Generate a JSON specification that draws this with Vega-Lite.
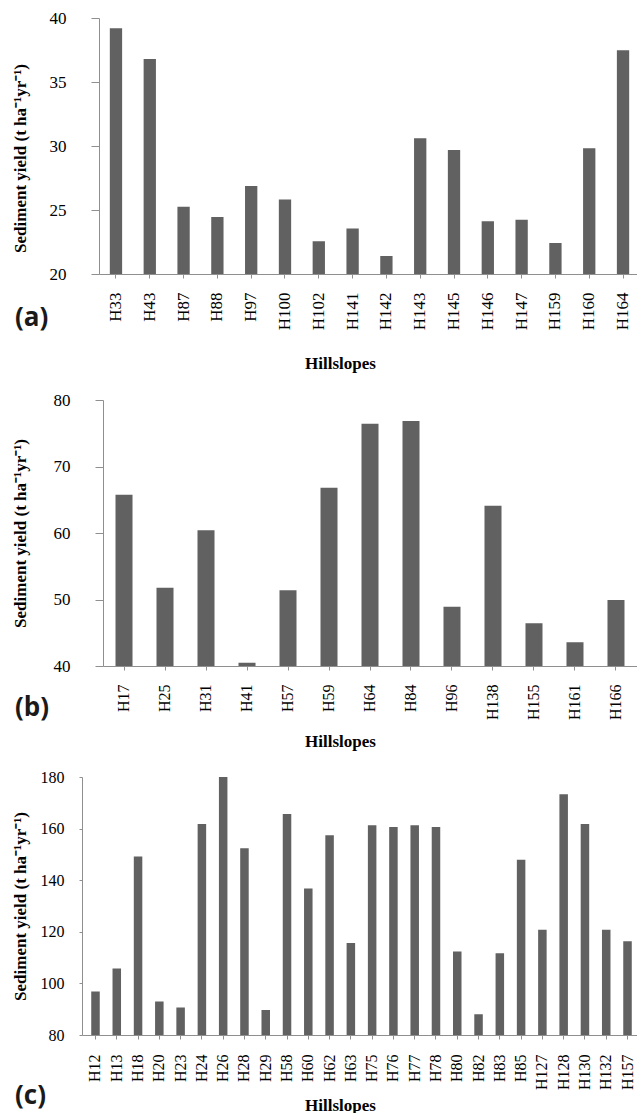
{
  "$schema": "https://vega.github.io/schema/vega-lite/v6.json",
  "background": "white",
  "padding": {"top": 9, "left": 10, "right": 0, "bottom": 0},
  "config": {
    "view": {"stroke": null},
    "font": "Liberation Serif",
    "axis": {
      "grid": false,
      "domainColor": "#8f8f8f",
      "tickColor": "#8f8f8f",
      "labelColor": "#000000",
      "labelFont": "Liberation Serif",
      "titleFont": "Liberation Serif",
      "titleFontWeight": "bold",
      "titleColor": "#000000"
    },
    "title": {"font": "Open Sans", "fontWeight": "bold", "fontSize": 26, "color": "#1a1a1a"}
  },
  "datasets": {
    "a": [
      {"hillslope": "H33", "yield": 39.2},
      {"hillslope": "H43", "yield": 36.8},
      {"hillslope": "H87", "yield": 25.25},
      {"hillslope": "H88", "yield": 24.46},
      {"hillslope": "H97", "yield": 26.87},
      {"hillslope": "H100", "yield": 25.82},
      {"hillslope": "H102", "yield": 22.56},
      {"hillslope": "H141", "yield": 23.55},
      {"hillslope": "H142", "yield": 21.41},
      {"hillslope": "H143", "yield": 30.6},
      {"hillslope": "H145", "yield": 29.69},
      {"hillslope": "H146", "yield": 24.13},
      {"hillslope": "H147", "yield": 24.23},
      {"hillslope": "H159", "yield": 22.43},
      {"hillslope": "H160", "yield": 29.82},
      {"hillslope": "H164", "yield": 37.49}
    ],
    "b": [
      {"hillslope": "H17", "yield": 65.76},
      {"hillslope": "H25", "yield": 51.78},
      {"hillslope": "H31", "yield": 60.4},
      {"hillslope": "H41", "yield": 40.5},
      {"hillslope": "H57", "yield": 51.38},
      {"hillslope": "H59", "yield": 66.8},
      {"hillslope": "H64", "yield": 76.44},
      {"hillslope": "H84", "yield": 76.84},
      {"hillslope": "H96", "yield": 48.92},
      {"hillslope": "H138", "yield": 64.1},
      {"hillslope": "H155", "yield": 46.42},
      {"hillslope": "H161", "yield": 43.56},
      {"hillslope": "H166", "yield": 49.92}
    ],
    "c": [
      {"hillslope": "H12", "yield": 96.9},
      {"hillslope": "H13", "yield": 105.8},
      {"hillslope": "H18", "yield": 149.2},
      {"hillslope": "H20", "yield": 93.0},
      {"hillslope": "H23", "yield": 90.7},
      {"hillslope": "H24", "yield": 161.8},
      {"hillslope": "H26", "yield": 180.1},
      {"hillslope": "H28", "yield": 152.4},
      {"hillslope": "H29", "yield": 89.7},
      {"hillslope": "H58", "yield": 165.7},
      {"hillslope": "H60", "yield": 136.8},
      {"hillslope": "H62", "yield": 157.4},
      {"hillslope": "H63", "yield": 115.7},
      {"hillslope": "H75", "yield": 161.3},
      {"hillslope": "H76", "yield": 160.6},
      {"hillslope": "H77", "yield": 161.3},
      {"hillslope": "H78", "yield": 160.6},
      {"hillslope": "H80", "yield": 112.4},
      {"hillslope": "H82", "yield": 88.0},
      {"hillslope": "H83", "yield": 111.7},
      {"hillslope": "H85", "yield": 147.9},
      {"hillslope": "H127", "yield": 120.8},
      {"hillslope": "H128", "yield": 173.3},
      {"hillslope": "H130", "yield": 161.8},
      {"hillslope": "H132", "yield": 120.8},
      {"hillslope": "H157", "yield": 116.3}
    ]
  },
  "spacing": 20,
  "vconcat": [
    {
      "width": 558,
      "height": 256,
      "data": {"name": "a"},
      "title": {"text": "(a)", "orient": "bottom", "anchor": "start", "frame": "bounds", "dx": 4, "dy": -70},
      "mark": {"type": "bar", "color": "#616161", "clip": true},
      "encoding": {
        "x": {
          "field": "hillslope", "type": "nominal", "sort": null,
          "scale": {"range": [17, 558], "paddingInner": 0.636, "paddingOuter": 0.32},
          "axis": {"labelAngle": -90, "labelFontSize": 17, "tickSize": 4, "labelPadding": 14,
                   "title": "Hillslopes", "titleFontSize": 17, "titleX": 258, "titleY": 89, "titleBaseline": "middle"}
        },
        "y": {
          "field": "yield", "type": "quantitative",
          "scale": {"domain": [20, 40], "nice": false, "zero": false},
          "axis": {"offset": -17, "values": [20, 25, 30, 35, 40], "labelFontSize": 17, "tickSize": 8, "labelPadding": 25,
                   "title": "Sediment yield (t ha⁻¹yr⁻¹)", "titleFontSize": 17, "titleX": -79, "titleY": 140, "titleBaseline": "middle"}
        }
      }
    },
    {
      "width": 555,
      "height": 266,
      "data": {"name": "b"},
      "title": {"text": "(b)", "orient": "bottom", "anchor": "start", "frame": "bounds", "dx": 4, "dy": -58},
      "mark": {"type": "bar", "color": "#616161", "clip": true},
      "encoding": {
        "x": {
          "field": "hillslope", "type": "nominal", "sort": null,
          "scale": {"range": [21, 555], "paddingInner": 0.585, "paddingOuter": 0.305},
          "axis": {"labelAngle": -90, "labelFontSize": 16, "tickSize": 4, "labelPadding": 14,
                   "title": "Hillslopes", "titleFontSize": 17, "titleX": 258, "titleY": 75, "titleBaseline": "middle"}
        },
        "y": {
          "field": "yield", "type": "quantitative",
          "scale": {"domain": [40, 80], "nice": false, "zero": false},
          "axis": {"offset": -21, "values": [40, 50, 60, 70, 80], "labelFontSize": 17, "tickSize": 8, "labelPadding": 25,
                   "title": "Sediment yield (t ha⁻¹yr⁻¹)", "titleFontSize": 17, "titleX": -83, "titleBaseline": "middle"}
        }
      }
    },
    {
      "width": 559,
      "height": 258,
      "data": {"name": "c"},
      "title": {"text": "(c)", "orient": "bottom", "anchor": "start", "frame": "bounds", "dx": 4, "dy": -34},
      "mark": {"type": "bar", "color": "#616161", "clip": true},
      "encoding": {
        "x": {
          "field": "hillslope", "type": "nominal", "sort": null,
          "scale": {"paddingInner": 0.6, "paddingOuter": 0.434},
          "axis": {"labelAngle": -90, "labelFontSize": 16, "tickSize": 4, "labelPadding": 15,
                   "title": "Hillslopes", "titleFontSize": 17, "titleX": 258, "titleY": 70, "titleBaseline": "middle"}
        },
        "y": {
          "field": "yield", "type": "quantitative",
          "scale": {"domain": [80, 180], "nice": false, "zero": false},
          "axis": {"values": [80, 100, 120, 140, 160, 180], "labelFontSize": 16, "tickSize": 3, "labelPadding": 15,
                   "title": "Sediment yield (t ha⁻¹yr⁻¹)", "titleFontSize": 17, "titleX": -62, "titleBaseline": "middle"}
        }
      }
    }
  ]
}
